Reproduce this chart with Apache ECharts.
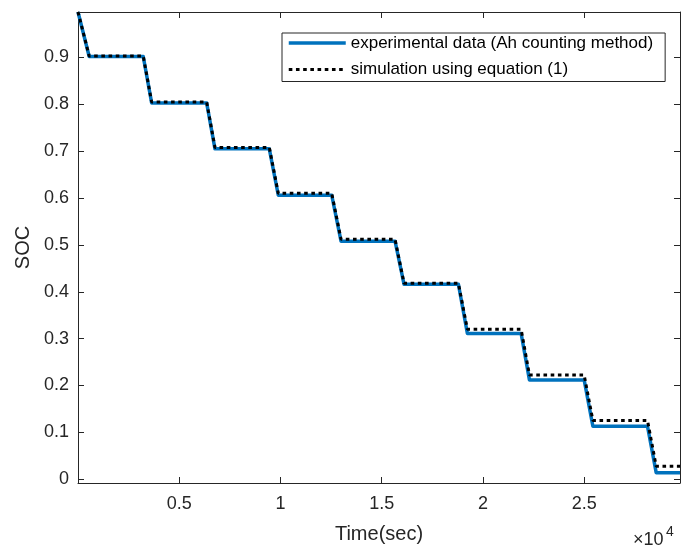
<!DOCTYPE html>
<html>
<head>
<meta charset="utf-8">
<script src="https://cdn.jsdelivr.net/npm/echarts@6/dist/echarts.min.js"></script>
<style>
html,body{margin:0;padding:0;background:#fff;}
#chart{width:681px;height:549px;}
</style>
</head>
<body>
<div id="chart"></div>
<script>
// breakpoints of the discharge profile (seconds)
const timeSec = [0, 553, 3222, 3637, 6354, 6764, 9447, 9892, 12531, 12990, 15658, 16103, 18786, 19230, 21884, 22294, 24997, 25427, 28124, 28554, 29730];
// experimental SOC (Ah counting)
const expSOC = [0.997, 0.902, 0.902, 0.803, 0.803, 0.705, 0.705, 0.606, 0.606, 0.508, 0.508, 0.416, 0.416, 0.311, 0.311, 0.212, 0.212, 0.113, 0.113, 0.014, 0.014];
// simulated SOC (equation 1)
const simSOC = [0.997, 0.903, 0.903, 0.805, 0.805, 0.708, 0.708, 0.610, 0.610, 0.512, 0.512, 0.418, 0.418, 0.320, 0.320, 0.2225, 0.2225, 0.1255, 0.1255, 0.028, 0.028];
const seriesNames = ['experimental data (Ah counting method)', 'simulation using equation (1)'];
const xTickValues = [5000, 10000, 15000, 20000, 25000];
const yTickValues = [0, 0.1, 0.2, 0.3, 0.4, 0.5, 0.6, 0.7, 0.8, 0.9];
const xRange = [0, 29730];
const yRange = [-0.008, 0.997];

const TXT = '#262626';
const FONT = 'Liberation Sans, Arial, sans-serif';
const chart = echarts.init(document.getElementById('chart'), null, {renderer: 'canvas'});

function axisBase(extra) {
  return Object.assign({
    type: 'value',
    axisLine: {show: true, onZero: false, lineStyle: {color: TXT, width: 1}},
    splitLine: {show: false},
  }, extra);
}

const option = {
  animation: false,
  backgroundColor: '#fff',
  grid: {left: 78, right: 1, top: 12, bottom: 62, containLabel: false},
  xAxis: [
    axisBase({
      position: 'bottom', min: xRange[0], max: xRange[1],
      name: 'Time(sec)', nameLocation: 'middle', nameGap: 41,
      nameTextStyle: {color: TXT, fontSize: 20, fontFamily: FONT},
      axisTick: {show: true, inside: true, length: 6, lineStyle: {color: TXT}, customValues: xTickValues},
      axisLabel: {show: true, color: TXT, fontSize: 18, fontFamily: FONT, margin: 12, customValues: xTickValues,
        formatter: v => String(Math.round(v / 1000) / 10)}
    }),
    axisBase({
      position: 'top', min: xRange[0], max: xRange[1],
      axisTick: {show: true, inside: true, length: 6, lineStyle: {color: TXT}, customValues: xTickValues},
      axisLabel: {show: false}
    })
  ],
  yAxis: [
    axisBase({
      position: 'left', min: yRange[0], max: yRange[1],
      name: 'SOC', nameLocation: 'middle', nameGap: 44, nameRotate: 90,
      nameTextStyle: {color: TXT, fontSize: 20, fontFamily: FONT},
      axisTick: {show: true, inside: true, length: 6, lineStyle: {color: TXT}, customValues: yTickValues},
      axisLabel: {show: true, color: TXT, fontSize: 18, fontFamily: FONT, margin: 9, customValues: yTickValues,
        formatter: v => String(Math.round(v * 10) / 10)}
    }),
    axisBase({
      position: 'right', min: yRange[0], max: yRange[1],
      axisTick: {show: true, inside: true, length: 6, lineStyle: {color: TXT}, customValues: yTickValues},
      axisLabel: {show: false}
    })
  ],
  legend: {
    orient: 'vertical', left: 282, top: 33,
    padding: [0, 12, 2, 5], itemGap: 6.5, itemWidth: 57, itemHeight: 14,
    backgroundColor: '#fff', borderColor: TXT, borderWidth: 1, borderRadius: 0,
    itemStyle: {opacity: 0, borderWidth: 0},
    textStyle: {color: '#000', fontSize: 17, fontFamily: FONT, lineHeight: 20},
    data: [
      {name: seriesNames[0], lineStyle: {width: 3.5}},
      {name: seriesNames[1], lineStyle: {width: 3}}
    ]
  },
  series: [
    {
      name: seriesNames[0], type: 'line', symbol: 'none', xAxisIndex: 0, yAxisIndex: 0,
      data: timeSec.map((t, i) => [t, expSOC[i]]),
      lineStyle: {color: '#0072BD', width: 3.5, join: 'round'},
      itemStyle: {color: '#0072BD'}
    },
    {
      name: seriesNames[1], type: 'line', symbol: 'none', xAxisIndex: 0, yAxisIndex: 0,
      data: timeSec.map((t, i) => [t, simSOC[i]]),
      lineStyle: {color: '#000', width: 3, type: [3.6, 3.6], cap: 'butt'},
      itemStyle: {color: '#000'}
    }
  ],
  graphic: [
    {type: 'text', left: 633, top: 531, style: {text: '×10', fill: TXT, font: '18px ' + FONT}},
    {type: 'text', left: 666, top: 525, style: {text: '4', fill: TXT, font: '14px ' + FONT}}
  ]
};
chart.setOption(option);
</script>
</body>
</html>
